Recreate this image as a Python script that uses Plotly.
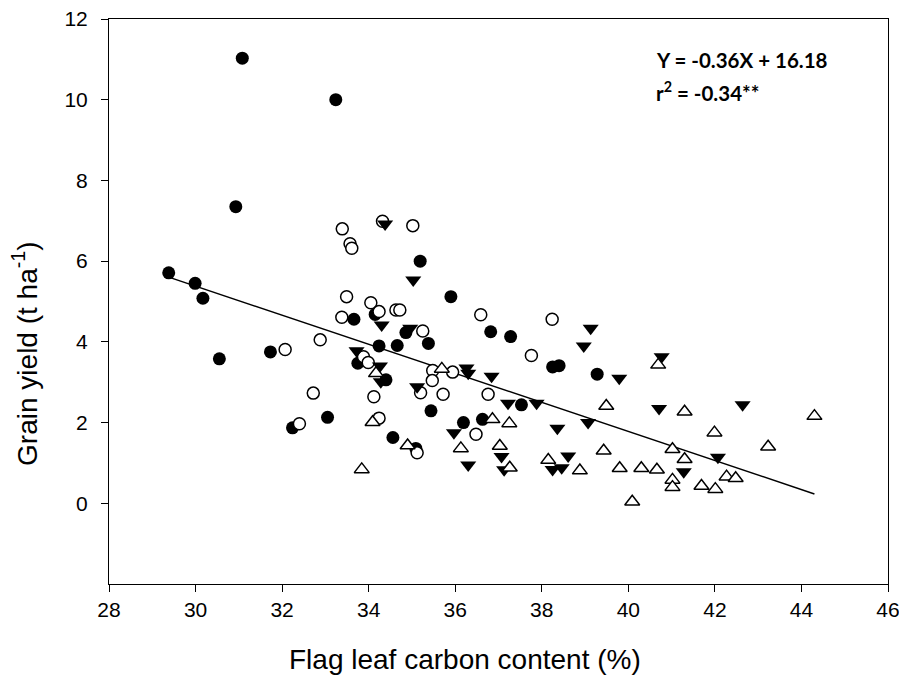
import plotly.graph_objects as go

# Filled circles
fc_x = [31.08, 33.24, 30.93, 35.19, 35.90, 34.15, 33.66, 34.86, 35.38, 34.66, 34.24, 36.82, 37.28,
        38.25, 38.40, 33.75, 34.40, 37.53, 33.05, 35.44, 36.19, 36.63, 34.56, 35.09, 39.28,
        29.38, 29.99, 30.17, 30.55, 31.73, 32.24]
fc_y = [11.03, 10.00, 7.35, 6.00, 5.12, 4.68, 4.56, 4.23, 3.96, 3.91, 3.90, 4.25, 4.13,
        3.38, 3.41, 3.47, 3.06, 2.44, 2.13, 2.29, 2.00, 2.08, 1.63, 1.36, 3.20,
        5.71, 5.45, 5.08, 3.58, 3.75, 1.87]

# Open circles
oc_x = [33.39, 33.57, 33.61, 34.32, 35.02, 33.49, 34.05, 34.24, 34.63, 34.72, 33.38, 36.59, 35.25,
        37.76, 38.24, 33.88, 33.99, 32.88, 32.72, 34.12, 35.20, 35.72, 35.48, 35.47, 35.94, 36.76,
        32.40, 34.24, 36.48, 35.12, 32.07]
oc_y = [6.80, 6.43, 6.32, 6.99, 6.88, 5.12, 4.97, 4.75, 4.79, 4.79, 4.61, 4.67, 4.27,
        3.66, 4.56, 3.63, 3.49, 4.05, 2.73, 2.64, 2.74, 2.70, 3.29, 3.04, 3.25, 2.70,
        1.97, 2.11, 1.71, 1.25, 3.81]

# Filled down-triangles
ft_x = [34.38, 35.03, 34.30, 34.96, 33.72, 34.26, 34.28, 35.12, 36.26, 36.30, 36.84, 37.22, 37.88,
        35.97, 37.07, 36.30, 37.13, 39.13, 38.97, 39.79, 40.77, 40.71, 42.64, 38.36, 39.07, 42.07,
        38.61, 38.25, 38.46, 41.28]
ft_y = [6.92, 5.53, 4.42, 4.34, 3.78, 3.40, 3.01, 2.89, 3.35, 3.22, 3.15, 2.48, 2.48,
        1.75, 1.16, 0.95, 0.83, 4.34, 3.90, 3.10, 3.63, 2.35, 2.44, 1.86, 2.00, 1.14,
        1.17, 0.84, 0.88, 0.78]

# Open up-triangles
ot_x = [34.17, 35.69, 34.09, 36.86, 37.25, 34.90, 36.13, 37.03, 37.26, 33.84, 40.69, 39.49, 41.30,
        44.30, 41.99, 43.23, 39.43, 41.02, 41.30, 38.15, 38.88, 39.80, 40.30, 40.66, 41.02, 41.02,
        41.69, 42.01, 42.27, 42.48, 40.09]
ot_y = [3.22, 3.33, 2.01, 2.08, 1.98, 1.43, 1.36, 1.42, 0.88, 0.84, 3.43, 2.41, 2.27,
        2.16, 1.75, 1.40, 1.30, 1.34, 1.09, 1.07, 0.81, 0.87, 0.87, 0.83, 0.58, 0.40,
        0.43, 0.35, 0.66, 0.62, 0.04]

slope = -0.36
intercept = 16.18

x_ticks = [28, 30, 32, 34, 36, 38, 40, 42, 44, 46]
y_ticks = [0, 2, 4, 6, 8, 10, 12]

all_x = fc_x + oc_x + ft_x + ot_x
xmin, xmax = min(all_x), max(all_x)
line_x = [xmin, xmax]
line_y = [slope * v + intercept for v in line_x]

fig = go.Figure()
fig.add_trace(go.Scatter(x=line_x, y=line_y, mode="lines",
                         line=dict(color="black", width=1.5), showlegend=False))
fig.add_trace(go.Scatter(x=fc_x, y=fc_y, mode="markers", showlegend=False,
                         marker=dict(symbol="circle", size=13, color="black",
                                     line=dict(color="black", width=0))))
fig.add_trace(go.Scatter(x=oc_x, y=oc_y, mode="markers", showlegend=False,
                         marker=dict(symbol="circle", size=12, color="white",
                                     line=dict(color="black", width=1.5))))
fig.add_trace(go.Scatter(x=ft_x, y=ft_y, mode="markers", showlegend=False,
                         marker=dict(symbol="triangle-down", size=14, color="black",
                                     line=dict(color="black", width=0))))
fig.add_trace(go.Scatter(x=ot_x, y=ot_y, mode="markers", showlegend=False,
                         marker=dict(symbol="triangle-up", size=13, color="white",
                                     line=dict(color="black", width=1.5))))

fig.add_annotation(x=40.6, y=10.98, xref="x", yref="y", xanchor="left", yanchor="middle",
                   text="<b>Y = -0.36X + 16.18</b>", showarrow=False,
                   font=dict(family="Lato", size=20.5, color="black"))
fig.add_annotation(x=40.6, y=10.2, xref="x", yref="y", xanchor="left", yanchor="middle",
                   text="<b>r<sup>2</sup> = -0.34**</b>", showarrow=False,
                   font=dict(family="Lato", size=20.5, color="black"))

# Axis titles (placed as in the reference, which are not centred on the plot area)
fig.add_annotation(x=0.457, y=-0.133, xref="paper", yref="paper", xanchor="center", yanchor="middle",
                   text="Flag leaf carbon content (%)", showarrow=False,
                   font=dict(family="Liberation Sans", size=28, color="black"))
fig.add_annotation(x=-0.108, y=0.407, xref="paper", yref="paper", xanchor="center", yanchor="middle",
                   text="Grain yield (t ha<sup>-1</sup>)", showarrow=False, textangle=-90,
                   font=dict(family="Liberation Sans", size=28, color="black"))

fig.update_layout(
    width=899, height=675,
    margin=dict(l=109, r=11, t=19, b=91),
    plot_bgcolor="white", paper_bgcolor="white",
    font=dict(family="Liberation Sans", color="black"),
)
fig.update_xaxes(range=[28, 46], tickvals=x_ticks, ticks="outside", ticklen=7, tickwidth=1,
                 tickcolor="black", showline=True, linecolor="black", linewidth=1, mirror=True,
                 showgrid=False, zeroline=False, tickfont=dict(size=21), automargin=False,
                 ticklabeloverflow="allow")
fig.update_yaxes(range=[-2, 12], tickvals=y_ticks, ticks="outside", ticklen=7, tickwidth=1,
                 tickcolor="black", showline=True, linecolor="black", linewidth=1, mirror=True,
                 showgrid=False, zeroline=False, tickfont=dict(size=21), automargin=False,
                 ticklabeloverflow="allow", ticklabelstandoff=9)

fig.write_html("out.html")
